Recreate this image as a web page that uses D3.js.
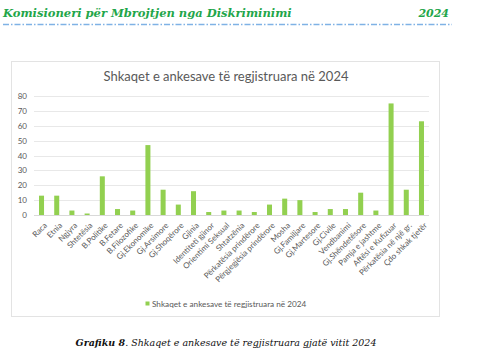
<!DOCTYPE html>
<html>
<head>
<meta charset="utf-8">
<script src="https://cdn.jsdelivr.net/npm/d3@7"></script>
<style>
  body { margin: 0; background: #fff; }
  svg { display: block; }
</style>
</head>
<body>
<div id="chart"></div>
<script>
// shkaqet (kategoritë)
const categories = [
    'Raca', 'Etnia', 'Ngjyra', 'Shtetësia', 'B.Politike', 'B.Fetare', 'B.Filozofike',
    'Gj.Ekonomike', 'Gj.Arsimore', 'Gj.Shoqërore', 'Gjinia', 'Identiteti gjinor',
    'Orientimi Seksual', 'Shtatzënia', 'Përkatësia prindërore', 'Përgjegjësia prindërore',
    'Mosha', 'Gj.Familjare', 'Gj.Martesore', 'Gj.Civile', 'Vendbanimi', 'Gj.Shëndetësore',
    'Pamja e jashtme', 'Aftësi e Kufizuar', 'Përkatësia në një gr.', 'Çdo shkak tjetër'
];
// numri i ankesave
const values = [13, 13, 3, 1, 26, 4, 3, 47, 17, 7, 16, 2, 3, 3, 2, 7, 11, 10, 2, 4, 4, 15, 3, 75, 17, 63];
const yTicks = [0, 10, 20, 30, 40, 50, 60, 70, 80];
const seriesName = 'Shkaqet e ankesave të regjistruara në 2024';

const W = 500, H = 351;
const green = '#92d050';
const grey = '#595959';

const svg = d3.select('#chart').append('svg')
    .attr('width', W)
    .attr('height', H);

// koka e faqes
svg.append('text')
    .attr('x', 3)
    .attr('y', 17)
    .attr('fill', '#1fa64a')
    .style('font-family', '"DejaVu Serif", serif')
    .style('font-style', 'italic')
    .style('font-weight', 'bold')
    .style('font-size', '11.5px')
    .text('Komisioneri për Mbrojtjen nga Diskriminimi');

svg.append('text')
    .attr('x', 449)
    .attr('y', 17)
    .attr('text-anchor', 'end')
    .attr('fill', '#1fa64a')
    .style('font-family', '"DejaVu Serif", serif')
    .style('font-style', 'italic')
    .style('font-weight', 'bold')
    .style('font-size', '11px')
    .text('2024');

svg.append('line')
    .attr('x1', 3).attr('x2', 452)
    .attr('y1', 24.5).attr('y2', 24.5)
    .attr('stroke', '#7fb2e5')
    .attr('stroke-width', 1.5)
    .attr('stroke-dasharray', '6,2,1.5,2');

// korniza e grafikut
svg.append('rect')
    .attr('x', 11.5).attr('y', 61.5)
    .attr('width', 428).attr('height', 255)
    .attr('fill', '#fff')
    .attr('stroke', '#e3e3e3')
    .attr('stroke-width', 1);

svg.append('text')
    .attr('x', 226)
    .attr('y', 81)
    .attr('text-anchor', 'middle')
    .attr('fill', grey)
    .style('font-family', 'Lato, sans-serif')
    .style('font-size', '13px')
    .text('Shkaqet e ankesave të regjistruara në 2024');

const margin = { left: 34, right: 429, top: 96, bottom: 215 };

const x = d3.scaleBand()
    .domain(categories)
    .range([margin.left, margin.right])
    .paddingInner(0.67)
    .paddingOuter(0.33);

const y = d3.scaleLinear()
    .domain([0, 80])
    .range([margin.bottom, margin.top]);

// vijat e rrjetit
svg.append('g')
    .selectAll('line')
    .data(yTicks)
    .enter()
    .append('line')
    .attr('x1', margin.left)
    .attr('x2', margin.right)
    .attr('y1', d => Math.round(y(d)) + 0.5)
    .attr('y2', d => Math.round(y(d)) + 0.5)
    .attr('stroke', d => d === 0 ? '#d9d9d9' : '#e8e8e8')
    .attr('stroke-width', 1);

// boshti Y
const yAxis = svg.append('g')
    .attr('transform', `translate(${margin.left - 7},0)`)
    .call(d3.axisLeft(y).tickValues(yTicks).tickSize(0).tickPadding(0));
yAxis.select('.domain').remove();
yAxis.selectAll('text')
    .attr('fill', grey)
    .style('font-family', 'Lato, sans-serif')
    .style('font-size', '8px');

// shtyllat
svg.append('g')
    .selectAll('rect')
    .data(values)
    .enter()
    .append('rect')
    .attr('x', (d, i) => x(categories[i]))
    .attr('y', d => y(d))
    .attr('width', x.bandwidth())
    .attr('height', d => y(0) - y(d))
    .attr('fill', green);

// boshti X
const xAxis = svg.append('g')
    .attr('transform', `translate(0,${margin.bottom})`)
    .call(d3.axisBottom(x).tickSize(0).tickPadding(0));
xAxis.select('.domain').remove();
xAxis.selectAll('text')
    .attr('fill', grey)
    .attr('text-anchor', 'end')
    .attr('dy', 0)
    .attr('transform', 'translate(6,11) rotate(-45)')
    .style('font-family', 'Lato, sans-serif')
    .style('font-size', '8px');

// legjenda
svg.append('rect')
    .attr('x', 145.5).attr('y', 301.5)
    .attr('width', 4).attr('height', 4)
    .attr('fill', green);

svg.append('text')
    .attr('x', 152)
    .attr('y', 306.5)
    .attr('fill', grey)
    .style('font-family', 'Lato, sans-serif')
    .style('font-size', '8.2px')
    .text(seriesName);

// titulli poshtë grafikut
const caption = svg.append('text')
    .attr('x', 226)
    .attr('y', 346)
    .attr('text-anchor', 'middle')
    .attr('fill', '#111')
    .style('font-family', '"DejaVu Serif", serif')
    .style('font-style', 'italic')
    .style('font-size', '9.5px');
caption.append('tspan')
    .style('font-weight', 'bold')
    .text('Grafiku 8');
caption.append('tspan')
    .text('. Shkaqet e ankesave të regjistruara gjatë vitit 2024');
</script>
</body>
</html>
